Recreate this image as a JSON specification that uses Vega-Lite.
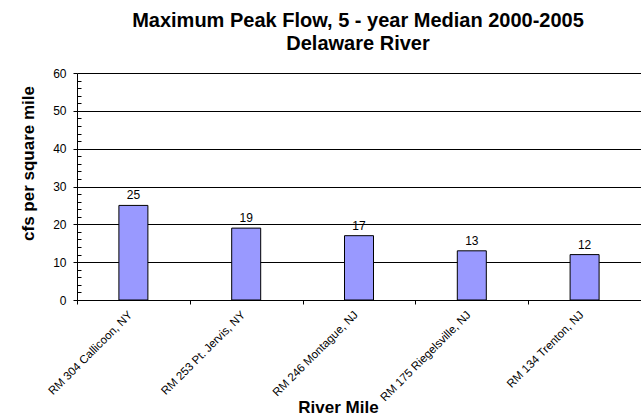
{
  "$schema": "https://vega.github.io/schema/vega-lite/v6.json",
  "width": 564,
  "height": 227,
  "autosize": {"type": "none"},
  "padding": {"left": 77, "top": 73, "right": 0, "bottom": 116},
  "background": "white",
  "title": {
    "text": ["Maximum Peak Flow, 5 - year Median 2000-2005", "Delaware River"],
    "font": "Liberation Sans",
    "fontSize": 20,
    "fontWeight": "bold",
    "color": "#000",
    "anchor": "start",
    "align": "center",
    "dx": 281,
    "offset": 13,
    "lineHeight": 23,
    "baseline": "top",
    "frame": "group"
  },
  "data": {
    "values": [
      {"site": "RM 304 Callicoon, NY", "value": 25},
      {"site": "RM 253 Pt. Jervis, NY", "value": 19},
      {"site": "RM 246 Montague, NJ", "value": 17},
      {"site": "RM 175 Riegelsville, NJ", "value": 13},
      {"site": "RM 134 Trenton, NJ", "value": 12}
    ]
  },
  "encoding": {
    "x": {
      "field": "site",
      "type": "nominal",
      "sort": null,
      "scale": {"paddingInner": 0, "paddingOuter": 0},
      "axis": {
        "title": "River Mile",
        "titleFont": "Liberation Sans",
        "titleFontSize": 17,
        "titleFontWeight": "bold",
        "titleColor": "#000",
        "titleX": 261,
        "titleY": 112,
        "titleBaseline": "alphabetic",
        "labelAngle": -45,
        "labelAlign": "right",
        "labelBaseline": "middle",
        "labelFont": "Liberation Sans",
        "labelFontSize": 11.5,
        "labelColor": "#000",
        "labelPadding": 9,
        "labelOffset": -3,
        "domainColor": "#000",
        "tickColor": "#000",
        "tickSize": 4,
        "tickBand": "extent",
        "grid": false
      }
    },
    "y": {
      "field": "value",
      "type": "quantitative",
      "scale": {"domain": [0, 60], "nice": false},
      "axis": {
        "title": "cfs per square mile",
        "titleFont": "Liberation Sans",
        "titleFontSize": 17,
        "titleFontWeight": "bold",
        "titleColor": "#000",
        "titleX": -49,
        "titleY": 90,
        "titleBaseline": "middle",
        "titleAlign": "center",
        "titleAngle": -90,
        "values": [0, 2, 4, 6, 8, 10, 12, 14, 16, 18, 20, 22, 24, 26, 28, 30, 32, 34, 36, 38, 40, 42, 44, 46, 48, 50, 52, 54, 56, 58, 60],
        "labelExpr": "datum.value % 10 === 0 ? datum.label : ''",
        "labelFont": "Liberation Sans",
        "labelFontSize": 12,
        "labelColor": "#000",
        "labelPadding": 7,
        "domainColor": "#000",
        "tickColor": "#000",
        "tickSize": {"condition": {"test": "datum.value % 10 === 0", "value": 4}, "value": -4},
        "grid": true,
        "gridColor": "#000",
        "gridOpacity": {"condition": {"test": "datum.value % 10 === 0", "value": 1}, "value": 0}
      }
    }
  },
  "layer": [
    {
      "mark": {"type": "bar", "size": 29, "color": "#9999FF", "stroke": "#000", "strokeWidth": 1}
    },
    {
      "mark": {"type": "text", "dy": -6, "baseline": "alphabetic", "font": "Liberation Sans", "fontSize": 12, "color": "#000"},
      "encoding": {"text": {"field": "value", "type": "quantitative"}}
    }
  ],
  "config": {"view": {"stroke": null}}
}
